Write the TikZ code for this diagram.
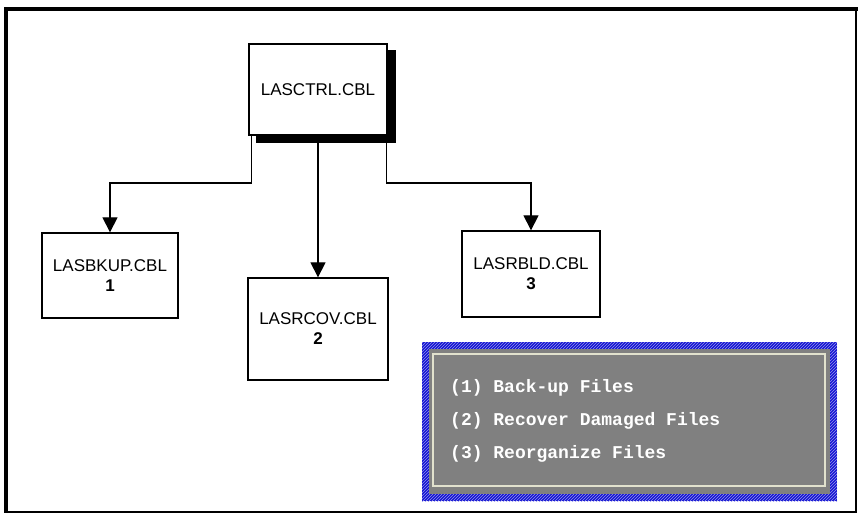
\documentclass[tikz,border=0pt]{standalone}
\usepackage{fontspec}
\setmainfont{Liberation Sans}
\newfontfamily\menufont{Liberation Mono}
\usetikzlibrary{arrows.meta,shadows,patterns}
\definecolor{panelgray}{RGB}{128,128,128}
\definecolor{panelblue}{RGB}{20,20,210}
\definecolor{panelline}{RGB}{225,225,205}

\begin{document}
\begin{tikzpicture}[x=1pt, y=-1pt,
    modbox/.style={draw, line width=1.3pt, fill=white, align=center, inner sep=0pt,
      font=\fontsize{17}{20}\selectfont},
    link/.style={line width=1.2pt, -{Triangle[width=15pt,length=15pt]}},
    menuitem/.style={anchor=west, text=white, inner sep=0pt,
      font=\menufont\bfseries\fontsize{18}{20}\selectfont}]
    \useasboundingbox (0,0) rectangle (858,513);
    \draw[line width=4pt] (6,513) -- (6,9) -- (858,9);
    \draw[line width=2pt] (6,511.5) -- (856,511.5) -- (856,9);

    \node[modbox, minimum width=138pt, minimum height=91pt,
      copy shadow={shadow xshift=8pt, shadow yshift=-7pt, fill=black, draw=black}]
      (ctrl) at (318,89.5) {LASCTRL.CBL};
    \node[modbox, minimum width=136pt, minimum height=85pt] (bkup) at (110,275.5)
      {LASBKUP.CBL\\ \textbf{1}};
    \node[modbox, minimum width=140pt, minimum height=102pt] (rcov) at (318,329)
      {LASRCOV.CBL\\ \textbf{2}};
    \node[modbox, minimum width=138pt, minimum height=86pt] (rbld) at (531,274)
      {LASRBLD.CBL\\ \textbf{3}};

    \coordinate (split) at (0,183);
    \coordinate (lout) at ([xshift=3pt]ctrl.south west);
    \coordinate (rout) at ([xshift=-1pt]ctrl.south east);
    \draw[link] (lout) -- (lout |- split) -| (bkup.north);
    \draw[link] (ctrl.south) -- (rcov.north);
    \draw[link] (rout) -- (rout |- split) -| (rbld.north);

    \fill[panelblue] (422,342) rectangle (837,501);
    \fill[pattern=north east lines, pattern color=white!55!panelblue] (422,342) rectangle (837,501);
    \fill[panelgray] (429,349) rectangle (830,494);
    \draw[panelline, line width=1.5pt] (433,354) rectangle (825,486);
    \node[menuitem] (opt1) at (450,388) {(1) Back-up Files};
    \node[menuitem] (opt2) at (450,421) {(2) Recover Damaged Files};
    \node[menuitem] (opt3) at (450,454) {(3) Reorganize Files};
\end{tikzpicture}
\end{document}
